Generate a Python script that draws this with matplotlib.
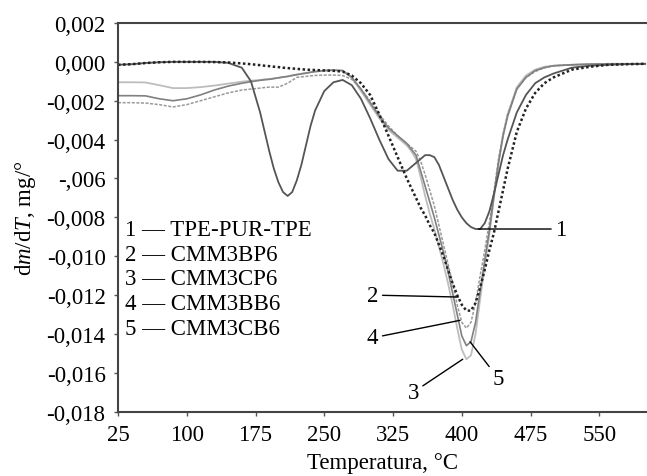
import matplotlib
matplotlib.use("Agg")
import matplotlib.pyplot as plt

plt.rcParams['font.family'] = ['Liberation Serif', 'DejaVu Serif']
plt.rcParams['mathtext.fontset'] = 'custom'
plt.rcParams['mathtext.rm'] = 'Liberation Serif'
plt.rcParams['mathtext.it'] = 'Liberation Serif:italic'

# temperature, deg C
temp = [25, 40, 55, 70, 85, 100, 115, 130, 145, 160,
        170, 180, 185, 190, 195, 200, 205, 210, 215, 220,
        225, 230, 235, 240, 250, 260, 270, 280, 290, 300,
        310, 320, 330, 340, 345, 350, 355, 360, 365, 370,
        375, 380, 385, 390, 395, 400, 405, 410, 415, 420,
        425, 430, 435, 440, 445, 450, 460, 470, 480, 490,
        500, 520, 540, 560, 580, 600]

# dm/dT, mg/deg
tpe_pur_tpe = [-0.00015, -0.00012, -0.00006, -0.00002, 0.0, 0.0, 0.0, 0.0, -0.00005, -0.0003,
               -0.0010, -0.0026, -0.0036, -0.0046, -0.0055, -0.0062, -0.0067, -0.0069, -0.0067, -0.0061,
               -0.0053, -0.0043, -0.0033, -0.0025, -0.0015, -0.00105, -0.00093, -0.0012, -0.0019, -0.0029,
               -0.0040, -0.0050, -0.0056, -0.0056, -0.0054, -0.0052, -0.0050, -0.0048, -0.0048, -0.0049,
               -0.0053, -0.0059, -0.0065, -0.0071, -0.0076, -0.0080, -0.0083, -0.0085, -0.0086, -0.0086,
               -0.0083, -0.0077, -0.0068, -0.0058, -0.0048, -0.0040, -0.0026, -0.0017, -0.0011, -0.0008,
               -0.0006, -0.0003, -0.0002, -0.00015, -0.00012, -0.0001]
cmm3bp6 = [-0.00015, -0.00012, -0.00006, -0.00002, 0.0, 0.0, 0.0, -0.00001, -0.00003, -0.00008,
           -0.00012, -0.00017, -0.0002, -0.00022, -0.00025, -0.00027, -0.0003, -0.00032, -0.00034, -0.00036,
           -0.00038, -0.0004, -0.00041, -0.00042, -0.00044, -0.00046, -0.0005, -0.0007, -0.0011, -0.0017,
           -0.0027, -0.0038, -0.0049, -0.0060, -0.0065, -0.0070, -0.0075, -0.0079, -0.0084, -0.0088,
           -0.0094, -0.0100, -0.0107, -0.0114, -0.0120, -0.0125, -0.0128, -0.0128, -0.0124, -0.0116,
           -0.0107, -0.0097, -0.0088, -0.0077, -0.0066, -0.0055, -0.0036, -0.0024, -0.0016, -0.0011,
           -0.0008, -0.0004, -0.00025, -0.00015, -0.00012, -0.0001]
cmm3cp6 = [-0.00105, -0.00105, -0.00106, -0.0012, -0.00135, -0.00135, -0.0013, -0.00122, -0.00112, -0.00102,
           -0.00097, -0.00093, -0.0009, -0.00088, -0.00085, -0.00082, -0.00078, -0.00075, -0.0007, -0.00065,
           -0.00061, -0.00057, -0.00053, -0.0005, -0.00045, -0.00042, -0.00045, -0.0008, -0.0015, -0.0022,
           -0.0029, -0.0035, -0.0039, -0.0043, -0.0046, -0.0050, -0.0059, -0.0069, -0.0078, -0.0086,
           -0.0095, -0.0104, -0.0114, -0.0125, -0.0137, -0.0148, -0.0153, -0.0151, -0.0140, -0.0122,
           -0.0105, -0.0089, -0.0070, -0.0052, -0.0038, -0.0027, -0.0013, -0.0007, -0.0004, -0.00025,
           -0.0002, -0.00015, -0.00012, -0.0001, -0.0001, -0.0001]
cmm3bb6 = [-0.0021, -0.0021, -0.00212, -0.0022, -0.00232, -0.0022, -0.002, -0.0018, -0.0016, -0.00145,
           -0.0014, -0.00135, -0.00132, -0.0013, -0.0013, -0.0013, -0.0012, -0.0011, -0.00095, -0.0008,
           -0.00077, -0.00075, -0.00072, -0.0007, -0.00068, -0.00068, -0.0007, -0.0009, -0.0014, -0.0020,
           -0.0027, -0.0033, -0.0038, -0.0042, -0.0044, -0.0046, -0.0051, -0.0058, -0.0066, -0.0074,
           -0.0084, -0.0094, -0.0104, -0.0114, -0.0125, -0.0134, -0.0137, -0.0134, -0.0124, -0.0110,
           -0.0097, -0.0083, -0.0067, -0.0050, -0.0037, -0.0027, -0.0014, -0.0008, -0.0005, -0.0003,
           -0.0002, -0.00015, -0.00012, -0.0001, -0.0001, -0.0001]
cmm3cb6 = [-0.00174, -0.00174, -0.00175, -0.0019, -0.0020, -0.0019, -0.0017, -0.00145, -0.00125, -0.0011,
           -0.00102, -0.00095, -0.00092, -0.0009, -0.00086, -0.00082, -0.00078, -0.00075, -0.0007, -0.00066,
           -0.00062, -0.00058, -0.00054, -0.0005, -0.00045, -0.00043, -0.00045, -0.0008, -0.0014, -0.0021,
           -0.0028, -0.0034, -0.0038, -0.0042, -0.0045, -0.0048, -0.0056, -0.0064, -0.0072, -0.0080,
           -0.0089, -0.0098, -0.0108, -0.0119, -0.0130, -0.0141, -0.0146, -0.0144, -0.0134, -0.0118,
           -0.0102, -0.0087, -0.0069, -0.0052, -0.0038, -0.0028, -0.0014, -0.0008, -0.00045, -0.0003,
           -0.0002, -0.00015, -0.00012, -0.0001, -0.0001, -0.0001]

legend_lines = ['1 — TPE-PUR-TPE', '2 — CMM3BP6', '3 — CMM3CP6',
                '4 — CMM3BB6', '5 — CMM3CB6']

xticks = [25, 100, 175, 250, 325, 400, 475, 550]
yticks = [0.002, 0.0, -0.002, -0.004, -0.006, -0.008, -0.010, -0.012,
          -0.014, -0.016, -0.018]
ytick_labels = ['0,002', '0,000', '-0,002', '-0,004', '-,006', '-0,008', '-0,010',
                '-0,012', '-0,014', '-0,016', '-0,018']

fig = plt.figure(figsize=(6.47, 4.77), dpi=100)
ax = fig.add_axes([0.1824, 0.1348, 0.8176, 0.8149])

ax.plot(temp, cmm3cp6, color='#bdbdbd', lw=1.3)
ax.plot(temp, cmm3bb6, color='#9a9a9a', lw=1.1, ls=(0, (2, 1)))
ax.plot(temp, cmm3cb6, color='#808080', lw=1.2)
ax.plot(temp, tpe_pur_tpe, color='#555555', lw=1.3)
ax.plot(temp, cmm3bp6, color='#222222', lw=1.8, ls=(0, (1, 1)))

ax.set_xlim(25, 602)
ax.set_ylim(-0.018, 0.002)
ax.set_xticks(xticks)
ax.set_yticks(yticks)
ax.set_yticklabels(ytick_labels)
ax.tick_params(labelsize=16.5, length=3, width=1, color='#555555', pad=6)

for side in ['left', 'bottom', 'top']:
    ax.spines[side].set_color('#444444')
    ax.spines[side].set_linewidth(1.5)
ax.spines['right'].set_visible(False)

ax.set_xlabel('Temperatura, °C', fontsize=16.5, labelpad=5)
ax.set_ylabel(r'd$\it{m}$/d$\it{T}$, mg/°', fontsize=16.5)
ax.yaxis.set_label_coords(-0.152, 0.5)

for i, s in enumerate(legend_lines):
    ax.text(0.013, 0.470 - i * 0.0643, s, transform=ax.transAxes,
            fontsize=16.5, va='center', ha='left')

arrow = dict(arrowstyle='-', color='black', lw=1.0, shrinkA=1, shrinkB=0)
ax.annotate('1', xy=(418, -0.0086), xytext=(502, -0.0086), fontsize=16.5,
            ha='left', va='center', arrowprops=arrow)
ax.annotate('2', xy=(396, -0.0121), xytext=(309, -0.0120), fontsize=16.5,
            ha='right', va='center', arrowprops=arrow)
ax.annotate('4', xy=(398, -0.0133), xytext=(309, -0.0142), fontsize=16.5,
            ha='right', va='center', arrowprops=arrow)
ax.annotate('3', xy=(401, -0.0153), xytext=(347, -0.0170), fontsize=16.5,
            ha='center', va='center', arrowprops=arrow)
ax.annotate('5', xy=(409, -0.0144), xytext=(440, -0.0163), fontsize=16.5,
            ha='center', va='center', arrowprops=arrow)

fig.savefig('out.png', dpi=100)
